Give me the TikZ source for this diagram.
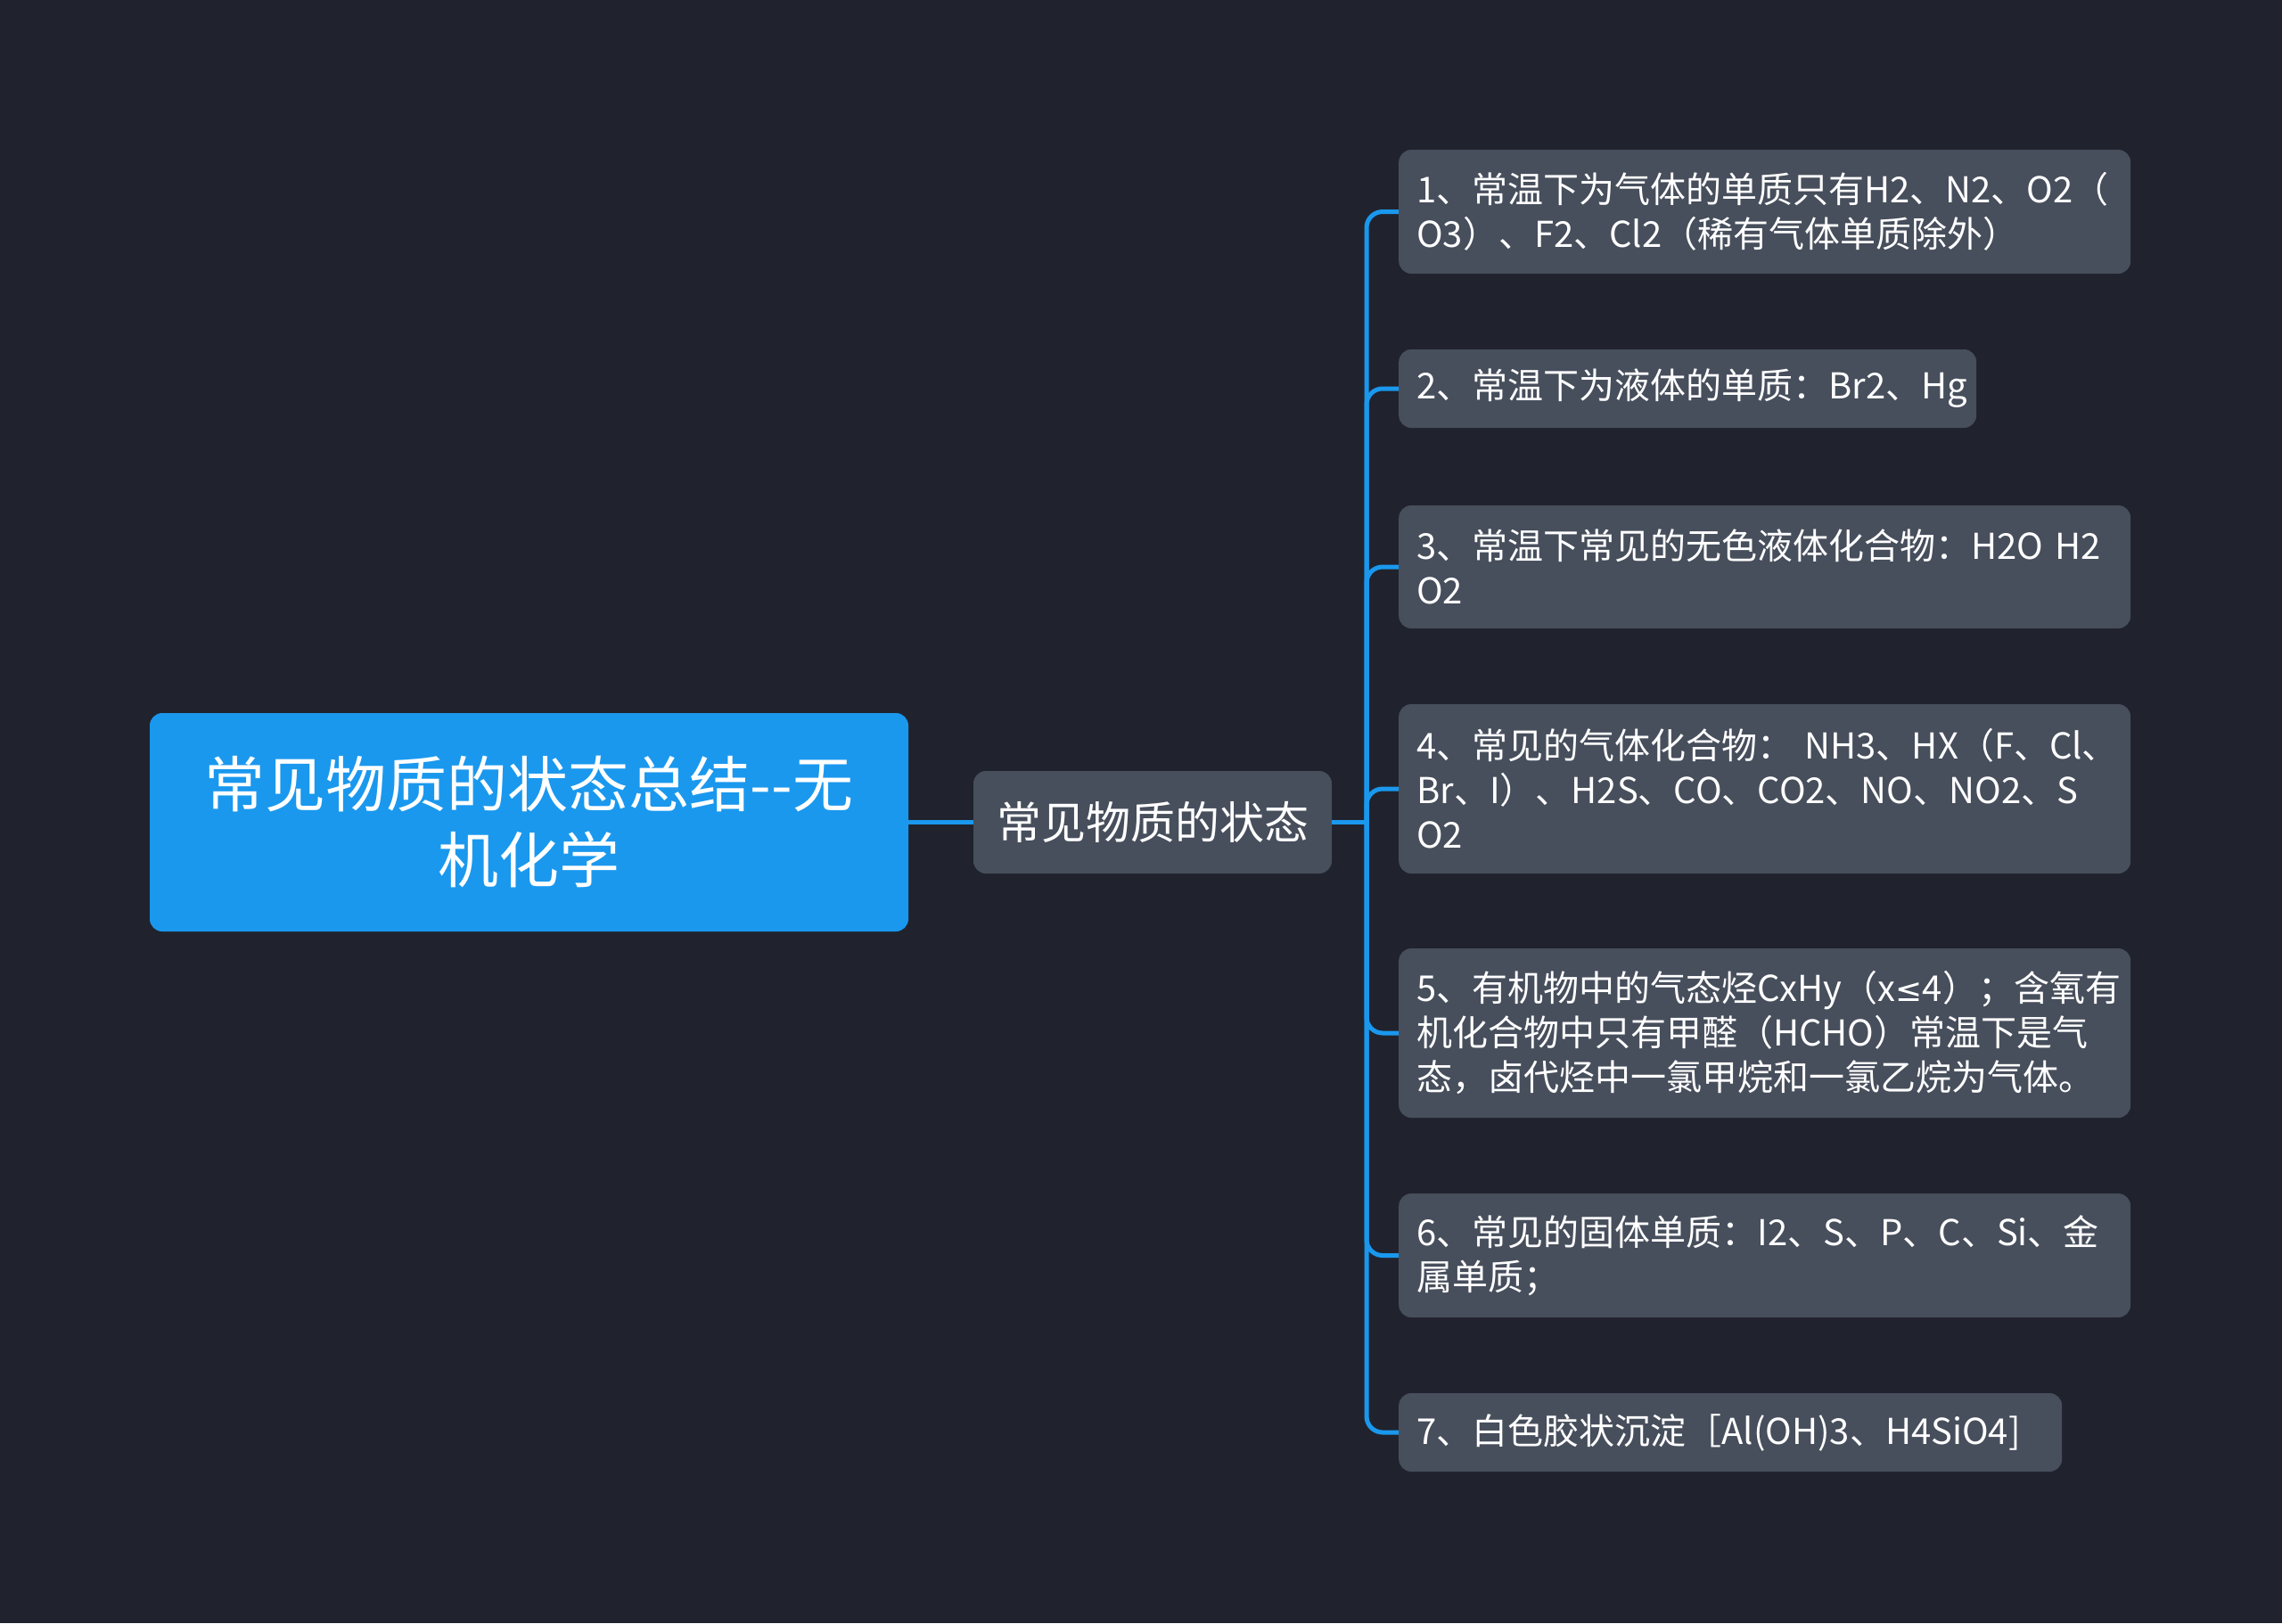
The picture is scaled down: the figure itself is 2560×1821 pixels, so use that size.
\documentclass[tikz,border=0pt]{standalone}
\usepackage{fontspec}
\newfontfamily\cjk{Noto Sans CJK SC}
\newfontfamily\symf{DejaVu Sans}
\definecolor{bg}{HTML}{20232E}
\definecolor{leafc}{HTML}{474E5C}
\definecolor{bluec}{HTML}{1A98EE}
\begin{document}
\begin{tikzpicture}[x=1pt,y=-1pt,
  leafbox/.style={fill=leafc, rounded corners=14pt, inner xsep=20pt, inner ysep=0pt,
    align=left, text=white, font=\cjk\fontsize{40}{50}\selectfont, anchor=west},
  rootbox/.style={fill=bluec, rounded corners=14pt, inner sep=0pt, align=center,
    text=white, font=\cjk\fontsize{68}{85}\selectfont},
  midbox/.style={fill=leafc, rounded corners=14pt, inner sep=0pt, align=center,
    text=white, font=\cjk\fontsize{50}{60}\selectfont},
  conn/.style={draw=bluec, line width=5pt}]
\fill[bg] (0,0) rectangle (2560,1821);
\useasboundingbox (0,0) rectangle (2560,1821);

\node[rootbox, minimum width=851pt, minimum height=245pt] (root) at (593.5,922.5)
  {常见物质的状态总结--无\\机化学};
\node[midbox, minimum width=402pt, minimum height=115pt] (mid) at (1293,922.5)
  {常见物质的状态};

\node[leafbox, text width=781pt, minimum height=139pt] (l1) at (1569,237.5)
  {1、常温下为气体的单质只有H2、N2、O2（\\O3）、F2、Cl2（稀有气体单质除外）};
\node[leafbox, text width=608pt, minimum height=88pt] (l2) at (1569,436)
  {2、常温下为液体的单质：Br2、Hg};
\node[leafbox, text width=781pt, minimum height=138pt] (l3) at (1569,636)
  {3、常温下常见的无色液体化合物：H2O~H2\\O2};
\node[leafbox, text width=781pt, minimum height=190pt] (l4) at (1569,885)
  {4、常见的气体化合物：~NH3、HX（F、Cl、\\Br、I）、H2S、CO、CO2、NO、NO2、S\\O2};
\node[leafbox, text width=781pt, minimum height=190pt] (l5) at (1569,1159)
  {5、有机物中的气态烃CxHy（x{\symf\fontsize{36}{50}\selectfont ≤}4）；含氧有\\机化合物中只有甲醛（HCHO）常温下是气\\态，卤代烃中一氯甲烷和一氯乙烷为气体。};
\node[leafbox, text width=781pt, minimum height=139pt] (l6) at (1569,1408.5)
  {6、常见的固体单质：I2、S、P、C、Si、金\\属单质；};
\node[leafbox, text width=704pt, minimum height=88pt] (l7) at (1569,1607)
  {7、白色胶状沉淀［Al(OH)3、H4SiO4]};

\coordinate (hub) at (1533,922.5);
\draw[conn] (root.east) -- (mid.west);
\draw[conn] (mid.east) -- (hub);
\foreach \n in {l1,l2,l3,l4,l5,l6,l7}
  \draw[conn, rounded corners=18pt] (hub) |- (\n.west);
\end{tikzpicture}
\end{document}
